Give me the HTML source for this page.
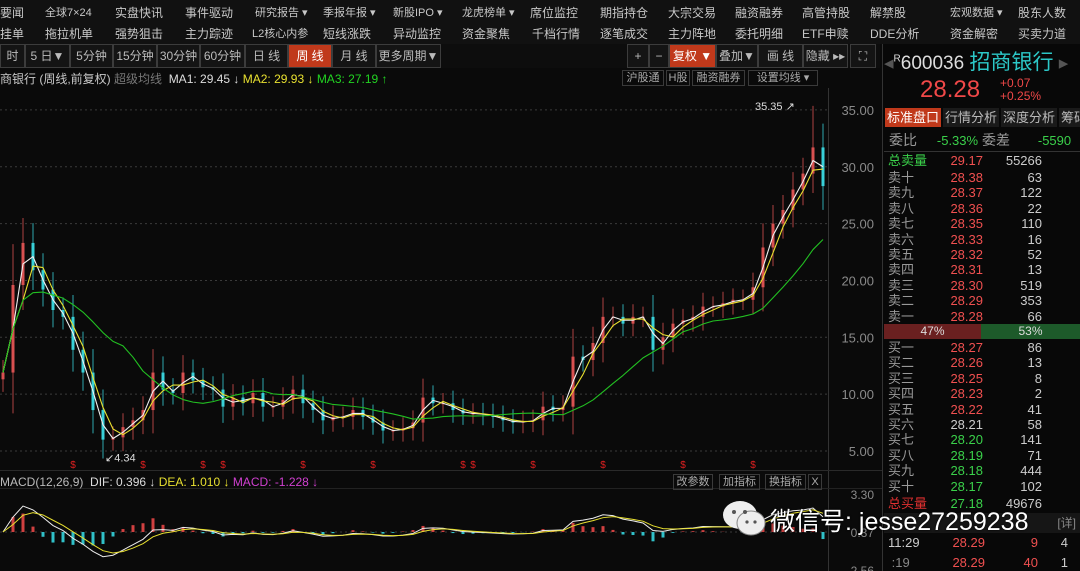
<!DOCTYPE html>
<html><head><meta charset="utf-8"><style>
*{margin:0;padding:0;box-sizing:border-box}
body{width:1080px;height:571px;background:#0a0a0a;overflow:hidden;position:relative;font-family:"Liberation Sans","Noto Sans CJK SC",sans-serif;color:#b8b8b8;font-size:12px}
.a{position:absolute;white-space:nowrap}
.menu{color:#c8c8c8;font-size:12px}
.btn{position:absolute;border:1px solid #3c3c3c;background:#141414;color:#bbb;text-align:center;font-size:12px;line-height:22px;height:24px}
.sel{background:#c0391b;color:#fff}
.sb{position:absolute;border:1px solid #3a3a3a;color:#aaa;font-size:11px;text-align:center;height:16px;line-height:14px}
.row{position:absolute;left:888px;width:180px;height:15px;font-size:13px;line-height:15px}
.row .l{position:absolute;left:0;color:#9a9a9a}
.row .p{position:absolute;left:50px;width:45px;text-align:right}
.row .v{position:absolute;right:26px;color:#ccc}
</style></head><body>
<div class="a" style="left:0;top:0;width:1080px;height:44px;background:#111"></div>
<div id="menus"></div>
<div class="a" style="left:0;top:44px;width:880px;height:24px;background:#0d0d0d"></div>
<div id="tabs"></div>
<div class="a" style="left:0;top:70px;font-size:12px;color:#c8c8c8">商银行 (周线,前复权) <span style="color:#777">超级均线</span> &nbsp;<span style="color:#ddd">MA1: 29.45 ↓</span> <span style="color:#e8e030">MA2: 29.93 ↓</span> <span style="color:#22d422">MA3: 27.19 ↑</span></div>
<div class="sb" style="left:622px;top:70px;width:42px">沪股通</div>
<div class="sb" style="left:666px;top:70px;width:24px">H股</div>
<div class="sb" style="left:692px;top:70px;width:53px">融资融券</div>
<div class="sb" style="left:748px;top:70px;width:70px">设置均线 ▾</div>

<svg id="chart" class="a" style="left:0;top:88px" width="882" height="483" viewBox="0 88 882 483"></svg>

<div class="a" style="left:0;top:475px;font-size:12px;color:#bbb">MACD(12,26,9) &nbsp;<span style="color:#ddd">DIF: 0.396 ↓</span> <span style="color:#e8e030">DEA: 1.010 ↓</span> <span style="color:#d040d0">MACD: -1.228 ↓</span></div>
<div class="sb" style="left:673px;top:474px;width:40px">改参数</div>
<div class="sb" style="left:719px;top:474px;width:41px">加指标</div>
<div class="sb" style="left:765px;top:474px;width:41px">换指标</div>
<div class="sb" style="left:808px;top:474px;width:14px">X</div>

<div class="a" style="left:882px;top:44px;width:198px;height:527px;background:#080808;border-left:1px solid #333"></div>
<div class="a" style="left:884px;top:46px;font-size:19px;color:#ddd"><span style="color:#555">◂</span><sup style="font-size:10px">R</sup><b style="font-weight:normal">600036</b> <span style="color:#2cc8c8;font-size:21px">招商银行</span> <span style="color:#555">▸</span></div>
<div class="a" style="left:920px;top:76px;font-size:24px;color:#f04848">28.28</div>
<div class="a" style="left:1000px;top:77px;font-size:12px;color:#f04848;line-height:13px">+0.07<br>+0.25%</div>
<div class="a" style="left:885px;top:108px;width:56px;height:19px;background:#c0391b;color:#fff;font-size:13px;text-align:center;line-height:19px">标准盘口</div>
<div class="a" style="left:943px;top:108px;width:56px;height:19px;background:#1a1a1a;color:#bbb;font-size:13px;text-align:center;line-height:19px">行情分析</div>
<div class="a" style="left:1001px;top:108px;width:56px;height:19px;background:#1a1a1a;color:#bbb;font-size:13px;text-align:center;line-height:19px">深度分析</div>
<div class="a" style="left:1059px;top:108px;width:30px;height:19px;background:#1a1a1a;color:#bbb;font-size:13px;line-height:19px;padding-left:2px">筹码</div>
<div class="a" style="left:889px;top:130px;font-size:14px;color:#999">委比 <span style="color:#3ad04a;margin-left:16px;font-size:13px">-5.33%</span> 委差 <span style="color:#3ad04a;margin-left:24px;font-size:13px">-5590</span></div>
<div class="a" style="left:884px;top:151px;width:196px;height:1px;background:#333"></div>
<div id="book"></div>
<div class="a" style="left:884px;top:324px;width:97px;height:15px;background:#6a2020;color:#ddd;font-size:12px;text-align:center;line-height:15px">47%</div>
<div class="a" style="left:981px;top:324px;width:99px;height:15px;background:#1d5a2a;color:#ddd;font-size:12px;text-align:center;line-height:15px">53%</div>
<div class="a" style="left:884px;top:513px;width:196px;height:20px;background:#161616;color:#888;font-size:12px;line-height:20px;text-align:right;padding-right:4px">[详]</div>
<div class="row" style="top:535px"><span class="l" style="color:#ccc">11:29</span><span class="p" style="left:52px;color:#f05050">28.29</span><span class="v" style="right:30px;color:#f05050">9</span><span style="position:absolute;right:0;color:#ccc">4</span></div>
<div class="row" style="top:555px"><span class="l" style="color:#888">&nbsp;:19</span><span class="p" style="left:52px;color:#f05050">28.29</span><span class="v" style="right:30px;color:#f05050">40</span><span style="position:absolute;right:0;color:#ccc">1</span></div>

<div class="a" style="left:718px;top:498px;height:40px">
<svg width="52" height="40" style="position:absolute;left:0;top:0"><ellipse cx="22" cy="17" rx="17" ry="14" fill="#eee"/><ellipse cx="33" cy="25" rx="14" ry="12" fill="#eee" stroke="#888" stroke-width="1"/><circle cx="16" cy="14" r="2" fill="#555"/><circle cx="27" cy="14" r="2" fill="#555"/><circle cx="29" cy="24" r="1.6" fill="#555"/><circle cx="37" cy="24" r="1.6" fill="#555"/></svg>
<span style="position:absolute;left:52px;top:4px;font-size:25px;color:#fff;text-shadow:0 0 2px #000">微信号: jesse27259238</span></div>

<script>
// ---- data ----
const closes=[11.9,19.6,23.3,20.9,19.2,17.4,16.8,13.9,11.9,8.6,6.0,6.2,7.1,7.7,8.6,11.9,10.4,10.1,11.9,11.2,10.6,10.4,8.9,9.7,9.2,10.1,8.9,8.9,9.5,10.4,9.2,8.6,7.7,8.0,8.0,8.6,8.0,7.5,6.8,6.8,7.0,7.5,9.7,9.2,9.2,8.6,8.3,8.3,8.2,8.0,7.7,7.5,7.6,7.7,8.9,8.6,8.9,13.3,13.0,14.5,16.8,16.8,16.2,16.8,16.8,13.9,15.0,16.2,16.5,16.8,17.7,17.7,18.0,18.3,18.3,19.4,22.9,25.0,26.2,28.0,29.4,31.7,28.3];
const priceTicks=[5,10,15,20,25,30,35];
const priceTickLabels=["5.00","10.00","15.00","20.00","25.00","30.00","35.00"];
const highMark={index:81,value:35.35,label:"35.35"};
const lowMark={index:10,value:4.34,label:"4.34"};
const macdTickValues=[3.30,0.37,-2.56];
const macdTickLabels=["3.30","0.37","-2.56"];
const dividendMarks=[7,14,20,22,30,37,46,47,53,60,68,75];
const maPeriods=[2,3,12];
// ---- axes ----
const X=i=>3+i*10;
const Y=p=>451-(p-5)*11.37;
const YM=v=>532-(v-0.37)*12.97;
const svg=document.getElementById('chart');const NS='http://www.w3.org/2000/svg';
function mk(t,a,p){const e=document.createElementNS(NS,t);for(const k in a)e.setAttribute(k,a[k]);(p||svg).appendChild(e);return e;}
const grid=mk('g',{});


priceTicks.forEach((p,k)=>{mk('line',{x1:0,x2:828,y1:Y(p),y2:Y(p),stroke:'#3a3a3a','stroke-dasharray':'2,3'},grid);
const t=mk('text',{x:874,y:Y(p)+5,fill:'#8a8a8a','font-size':13,'text-anchor':'end','font-family':'Liberation Sans'});t.textContent=priceTickLabels[k];

});
mk('line',{x1:828.5,x2:828.5,y1:88,y2:571,stroke:'#333'});
mk('line',{x1:0,x2:882,y1:470.5,y2:470.5,stroke:'#2a2a2a'});
mk('line',{x1:0,x2:882,y1:488.5,y2:488.5,stroke:'#222'});
mk('line',{x1:0,x2:828,y1:YM(0.37),y2:YM(0.37),stroke:'#3a3a3a','stroke-dasharray':'2,3'});
macdTickValues.forEach((v,k)=>{const t=mk('text',{x:874,y:YM(v)+5,fill:'#8a8a8a','font-size':12,'text-anchor':'end','font-family':'Liberation Sans'});t.textContent=macdTickLabels[k];

});
// candles
closes.forEach((c,i)=>{const o=i?closes[i-1]:c*0.95;const sw=Math.abs(c-o)*0.35+0.9;let hi=Math.max(o,c)+sw,lo=Math.min(o,c)-sw;
if(i===highMark.index)hi=highMark.value;if(i===lowMark.index)lo=lowMark.value;
const up=c>=o,col=up?'#d85050':'#38d0d8';
const g=mk('g',{});


mk('line',{x1:X(i),x2:X(i),y1:Y(hi),y2:Y(lo),stroke:col,'stroke-width':0.8},g);
mk('rect',{x:X(i)-1.5,y:Y(Math.max(o,c)),width:3,height:Math.max(1,Math.abs(Y(o)-Y(c))),fill:col},g);});
// MAs
const maCols=['#f0f0f0','#e8e030','#22c022'];
maPeriods.forEach((n,k)=>{const pts=closes.map((c,i)=>{const s=closes.slice(Math.max(0,i-n+1),i+1);return X(i)+','+Y(s.reduce((a,b)=>a+b,0)/s.length);});
const l=mk('polyline',{points:pts.join(' '),fill:'none',stroke:maCols[k],'stroke-width':1.1,'stroke-linejoin':'round'});

});
// annotations
let t=mk('text',{x:X(highMark.index)-58,y:Y(highMark.value)+4,fill:'#ddd','font-size':11,'font-family':'Liberation Sans'});t.textContent=highMark.label+' ↗';


t=mk('text',{x:X(lowMark.index)+2,y:Y(lowMark.value)+3,fill:'#ddd','font-size':11,'font-family':'Liberation Sans'});t.textContent='↙'+lowMark.label;


dividendMarks.forEach(i=>{const d=mk('text',{x:X(i),y:468,fill:'#e02020','font-size':10,'text-anchor':'middle'});d.textContent='$';

});
// MACD
function ema(a,n){const k=2/(n+1);let r=[],p=a[0];a.forEach(v=>{p=v*k+p*(1-k);r.push(p);});return r;}
const e1=ema(closes,3),e2=ema(closes,7);const dif=e1.map((v,i)=>(v-e2[i])*0.6);const dea=ema(dif,3);
mk('clipPath',{id:'mc'});mk('rect',{x:0,y:489,width:828,height:82},svg.lastChild);
const mg=mk('g',{'clip-path':'url(#mc)'});


dif.forEach((d,i)=>{const h=2*(d-dea[i]);const y0=YM(0.37),y1=y0-h*12.97;
const r=mk('rect',{x:X(i)-1.5,y:Math.min(y0,y1),width:3,height:Math.abs(y1-y0),fill:h>=0?'#d04040':'#30c0c8'},mg);

});
[[dif,'#eee'],[dea,'#e8e030']].forEach(([s,c])=>{const l=mk('polyline',{points:s.map((v,i)=>X(i)+','+YM(v+0.37)).join(' '),fill:'none',stroke:c,'stroke-width':1},mg);

});

// menus
const r1=[["要闻",0],["全球7×24",45],["实盘快讯",115],["事件驱动",185],["研究报告 ▾",255],["季报年报 ▾",323],["新股IPO ▾",393],["龙虎榜单 ▾",462],["席位监控",530],["期指持仓",600],["大宗交易",668],["融资融券",735],["高管持股",802],["解禁股",870],["宏观数据 ▾",950],["股东人数",1018]];
const r2=[["挂单",0],["拖拉机单",45],["强势狙击",115],["主力踪迹",185],["L2核心内参",252],["短线涨跌",323],["异动监控",393],["资金聚焦",462],["千档行情",532],["逐笔成交",600],["主力阵地",668],["委托明细",735],["ETF申赎",802],["DDE分析",870],["资金解密",950],["买卖力道",1018]];
const M=document.getElementById('menus');
[[r1,4],[r2,25]].forEach(([r,y])=>r.forEach(([s,x])=>{const d=document.createElement('div');d.className='a menu';d.style.left=x+'px';d.style.top=y+'px';d.textContent=s;
if(s.length>5)d.style.fontSize='11px';


M.appendChild(d);}));
const tabs=[["时",0,25],["5 日▼",25,45],["5分钟",70,43],["15分钟",113,44],["30分钟",157,43],["60分钟",200,45],["日 线",245,43],["周 线",288,44,1],["月 线",332,44],["更多周期▼",376,65],["+",627,22],["−",649,20],["复权 ▼",669,47,1],["叠加▼",716,42],["画 线",758,45],["隐藏 ▸▸",803,45],["⛶",850,26]];
const T=document.getElementById('tabs');
tabs.forEach(([s,x,w,sel])=>{const d=document.createElement('div');d.className='btn'+(sel?' sel':'');d.style.left=x+'px';d.style.top='44px';d.style.width=w+'px';d.textContent=s;


T.appendChild(d);});
// order book
const askLabels=["卖十","卖九","卖八","卖七","卖六","卖五","卖四","卖三","卖二","卖一"];
const askPrices=["28.38","28.37","28.36","28.35","28.33","28.32","28.31","28.30","28.29","28.28"];
const askVols=["63","122","22","110","16","52","13","519","353","66"];
const bidLabels=["买一","买二","买三","买四","买五","买六","买七","买八","买九","买十"];
const bidPrices=["28.27","28.26","28.25","28.23","28.22","28.21","28.20","28.19","28.18","28.17"];
const bidVols=["86","13","8","2","41","58","141","71","444","102"];
const B=document.getElementById('book');
function row(y,l,p,v,lc,pc){const d=document.createElement('div');d.className='row';d.style.top=y+'px';
d.innerHTML='<span class="l" style="color:'+lc+'">'+l+'</span><span class="p" style="color:'+pc+'">'+p+'</span><span class="v">'+v+'</span>';


B.appendChild(d);}
row(153,"总卖量","29.17","55266","#3ad04a","#f05050");
askLabels.forEach((l,i)=>row(170+i*15.4,l,askPrices[i],askVols[i],"#999","#f05050"));
bidLabels.forEach((l,i)=>row(340+i*15.4,l,bidPrices[i],bidVols[i],"#999",parseFloat(bidPrices[i])>28.21?"#f05050":parseFloat(bidPrices[i])<28.21?"#3ad04a":"#ccc"));
row(496,"总买量","27.18","49676","#e03030","#3ad04a");
</script>
</body></html>
